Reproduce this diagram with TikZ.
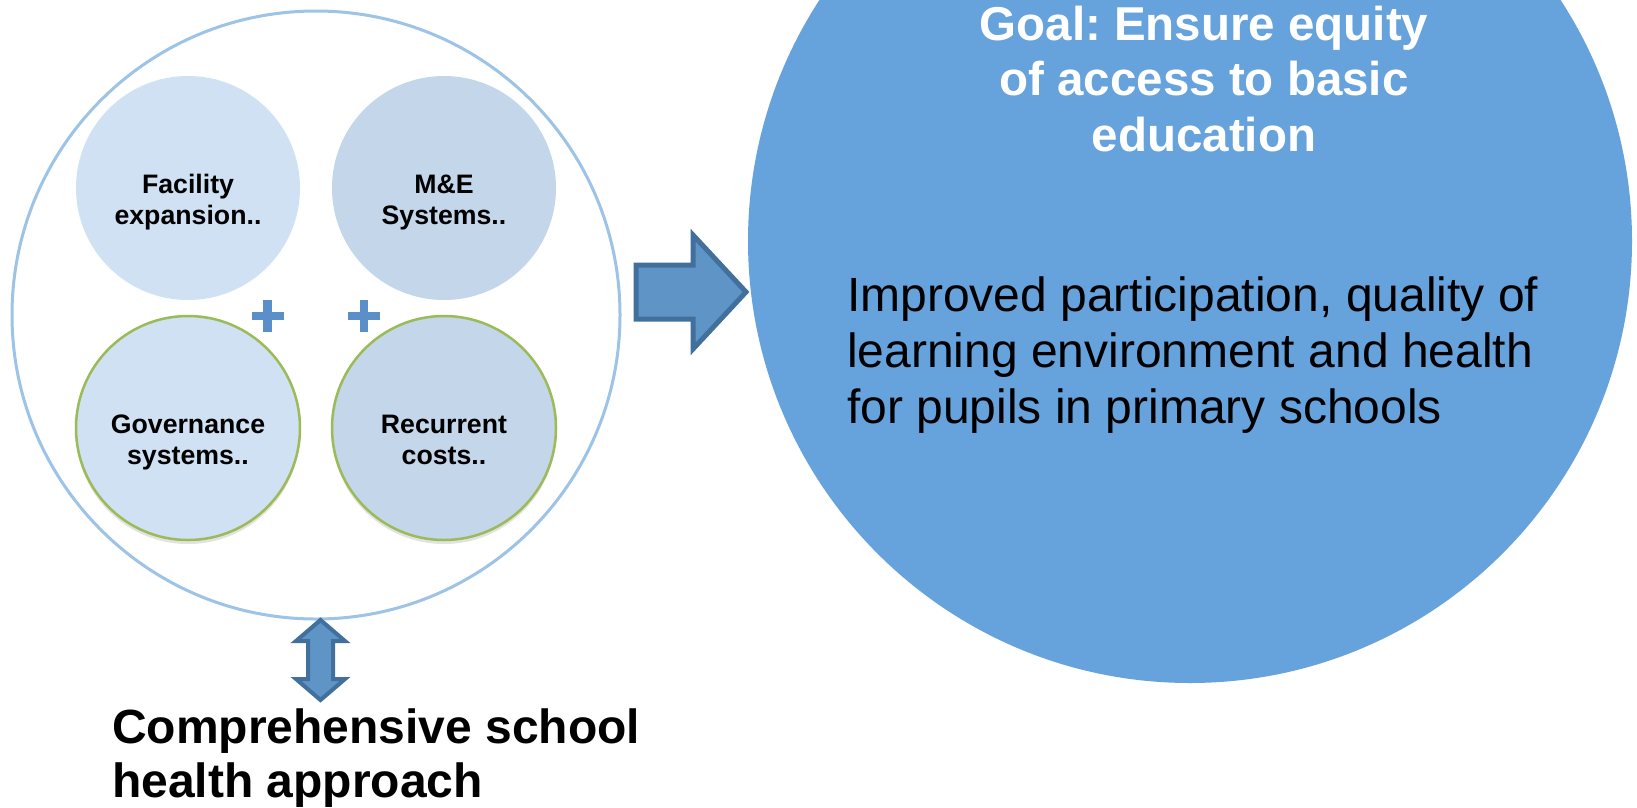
\documentclass[tikz,border=0pt]{standalone}
\usepackage{fontspec}
\setmainfont{Liberation Sans}
\usetikzlibrary{shadows}
\definecolor{outerc}{HTML}{9DC3E6}
\definecolor{lightfill}{HTML}{CFE1F3}
\definecolor{midfill}{HTML}{C3D6EA}
\definecolor{greenc}{HTML}{9BBB59}
\definecolor{plusc}{HTML}{5B8FC9}
\definecolor{arrowfill}{HTML}{5F94C7}
\definecolor{arrowline}{HTML}{41709D}
\definecolor{bigc}{HTML}{66A2DC}
\newcommand{\tlines}[2]{\begin{tabular}[t]{@{}#1@{}}#2\end{tabular}}
\frenchspacing
\begin{document}
\begin{tikzpicture}[x=1pt,y=-1pt,
  bigcirc/.style={circle, fill=bigc, minimum size=884pt, inner sep=0pt},
  outercirc/.style={circle, draw=outerc, line width=3pt, minimum size=608pt, inner sep=0pt},
  smallc/.style={circle, minimum size=224pt, inner sep=0pt},
  greenring/.style={draw=greenc, line width=2.5pt,
    drop shadow={shadow xshift=0pt, shadow yshift=-4pt, opacity=0.16, fill=black!70}},
  smalltext/.style={anchor=base, inner sep=0pt, font=\bfseries\fontsize{26.7}{31}\selectfont},
  plusline/.style={draw=plusc, line width=8.4pt},
  blockarrow/.style={fill=arrowfill, draw=arrowline, line join=miter},
  bigtext/.style={inner sep=0pt, font=\fontsize{48}{56}\selectfont}
]
\useasboundingbox (0,0) rectangle (1637,807);
\clip (0,0) rectangle (1637,807);
\fill[white] (0,0) rectangle (1637,807);

% right goal circle
\node[bigcirc] (goal) at (1190,241) {};
\node[anchor=base, inner sep=0pt, text=white, font=\bfseries\fontsize{47.5}{55.5}\selectfont] (goalT) at (1204,40)
  {\tlines{c}{Goal: Ensure equity\\of access to basic\\education}};
\node[bigtext, anchor=base west] (goalB) at (847,311)
  {\tlines{l}{Improved participation, quality of\\learning environment and health\\for pupils in primary schools}};

% outer circle
\node[outercirc] (outer) at (316,315) {};

% small circles
\node[smallc, fill=lightfill] (fac) at (188,188) {};
\node[smallc, fill=midfill] (me) at (444,188) {};
\node[smallc, fill=lightfill, greenring] (gov) at (188,428) {};
\node[smallc, fill=midfill, greenring] (rec) at (444,428) {};

\node[smalltext] (facT) at (188,193) {\tlines{c}{Facility\\expansion..}};
\node[smalltext] (meT) at (444,193) {\tlines{c}{M\&E\\Systems..}};
\node[smalltext] (govT) at (188,433) {\tlines{c}{Governance\\systems..}};
\node[smalltext] (recT) at (444,433) {\tlines{c}{Recurrent\\costs..}};

% plus signs
\draw[plusline] (251.5,316) -- (283.5,316) (267.5,300) -- (267.5,332);
\draw[plusline] (347.7,316) -- (379.7,316) (363.7,300) -- (363.7,332);

% right block arrow
\draw[blockarrow, line width=5pt] (636,265) -- (693,265) -- (693,235) -- (746,292)
  -- (693,349) -- (693,319) -- (636,319) -- cycle;

% vertical double arrow
\draw[blockarrow, line width=4pt] (320.5,620) -- (345,641) -- (333,641) -- (333,679)
  -- (345,679) -- (320.5,700) -- (296,679) -- (308,679) -- (308,641) -- (296,641) -- cycle;

% bottom label
\node[anchor=base west, inner sep=0pt, font=\bfseries\fontsize{48}{54}\selectfont] (csh) at (112,743)
  {\tlines{l}{Comprehensive school\\health approach}};
\end{tikzpicture}
\end{document}
